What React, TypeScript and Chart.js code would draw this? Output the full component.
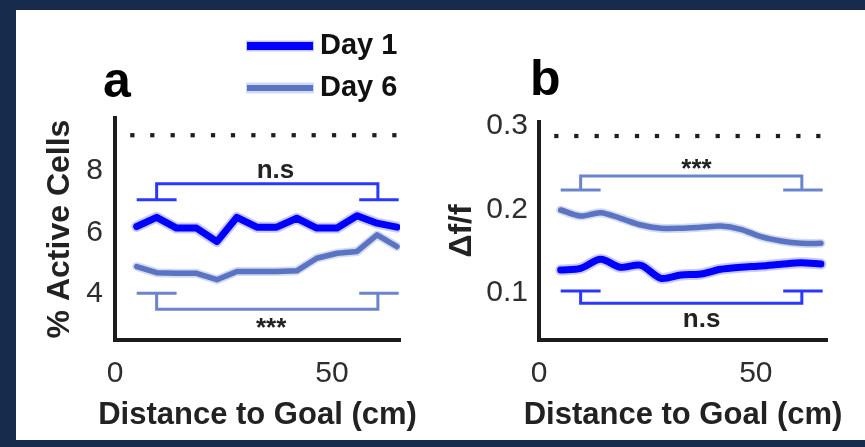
import React, { useEffect, useRef } from 'react';
import { Chart, registerables } from 'chart.js';

Chart.register(...registerables);

const FONT = "'Liberation Sans', Arial, Helvetica, sans-serif";

// ---------- data ----------
const distanceCm = [5, 9.6, 14.2, 18.8, 23.5, 28.1, 32.7, 37.3, 41.9, 46.5, 51.2, 55.8, 60.4, 65];
const sigDotX = [4, 8.6, 13.3, 17.9, 22.6, 27.2, 31.9, 36.5, 41.2, 45.8, 50.5, 55.1, 59.8, 64.4];
const seriesLabels = ['Day 1', 'Day 6'];
const xAxisTitle = 'Distance to Goal (cm)';

const activeDay1 = [6.19, 6.49, 6.14, 6.14, 5.7, 6.49, 6.17, 6.17, 6.46, 6.14, 6.14, 6.54, 6.3, 6.17];
const activeDay6 = [4.89, 4.69, 4.67, 4.67, 4.46, 4.73, 4.73, 4.73, 4.75, 5.16, 5.32, 5.38, 5.92, 5.54];

const dffDay1 = [0.1275, 0.1296, 0.1404, 0.1308, 0.1332, 0.1176, 0.1216, 0.1228, 0.1284, 0.1308, 0.1323, 0.1344, 0.1363, 0.1347];
const dffDay6 = [0.1994, 0.1922, 0.1962, 0.1895, 0.1814, 0.1775, 0.1775, 0.1787, 0.1802, 0.1763, 0.1674, 0.1623, 0.1595, 0.1595];

const xTickValues = [0, 50];
const activeTickValues = [4, 6, 8];
const dffTickValues = [0.1, 0.2, 0.3];

// bracket geometry in data units: feet ends and leg positions
const bracketFeetX = [5, 14.2, 56.3, 65.4];
const bracketLegsX = [9.6, 60.6];
const activeBracketDay1 = [7.06, 7.58]; // [feet, bar]
const activeBracketDay6 = [4.02, 3.5];
const dffBracketDay6 = [0.2233, 0.24];
const dffBracketDay1 = [0.1024, 0.0877];
const activeSigY = 9.16;
const dffSigY = 0.288;

// ---------- styles ----------
const DAY1 = '#0000ff';
const DAY6 = '#5a73c3';
const DAY1_HALO = 'rgba(60,60,255,0.28)';
const DAY6_HALO = 'rgba(110,135,210,0.30)';
const BR1 = '#2a38ff';
const BR6 = '#6c84cc';
const NAVY = '#172b4d';

function pts(xs: number[], ys: number[]) {
  return xs.map((x, i) => ({ x, y: ys[i] }));
}

function bracketPoints(feetY: number, barY: number) {
  const [f0, f1, f2, f3] = bracketFeetX;
  const [l0, l1] = bracketLegsX;
  return [
    { x: f0, y: feetY }, { x: f1, y: feetY }, { x: f1, y: null },
    { x: l0, y: feetY }, { x: l0, y: barY }, { x: l1, y: barY }, { x: l1, y: feetY }, { x: l1, y: null },
    { x: f2, y: feetY }, { x: f3, y: feetY },
  ];
}

type Note = { text: string; x: number; y: number; size: number };
type PanelOpts = {
  letter: string;
  letterDx: number;
  letterDy: number;
  notes: Note[];
  legend: boolean;
};

function overlayPlugin(o: PanelOpts) {
  return {
    id: 'overlay',
    afterDraw(chart: any) {
      const { ctx, chartArea, scales } = chart;
      ctx.save();
      ctx.fillStyle = '#000';
      ctx.textAlign = 'left';
      ctx.textBaseline = 'alphabetic';
      ctx.font = `bold 50px ${FONT}`;
      ctx.fillText(o.letter, chartArea.left + o.letterDx, chartArea.top + o.letterDy);

      // x-axis title (drawn without width squeeze)
      ctx.font = `bold 31px ${FONT}`;
      ctx.fillStyle = '#222';
      ctx.textAlign = 'center';
      ctx.textBaseline = 'middle';
      ctx.fillText(xAxisTitle, (chartArea.left + chartArea.right) / 2, chartArea.bottom + 75);

      for (const n of o.notes) {
        ctx.font = `bold ${n.size}px ${FONT}`;
        ctx.fillStyle = '#222';
        ctx.textAlign = 'center';
        ctx.textBaseline = 'alphabetic';
        ctx.fillText(n.text, scales.x.getPixelForValue(n.x), scales.y.getPixelForValue(n.y));
      }

      if (o.legend) {
        const colors = [DAY1, DAY6];
        const halos = [DAY1_HALO, DAY6_HALO];
        const rows = [chartArea.top - 72, chartArea.top - 30];
        const x0 = chartArea.left + 132;
        const x1 = chartArea.left + 198;
        seriesLabels.forEach((label, i) => {
          const y = rows[i];
          ctx.lineCap = 'butt';
          ctx.strokeStyle = halos[i];
          ctx.lineWidth = 11;
          ctx.beginPath();
          ctx.moveTo(x0 - 1, y);
          ctx.lineTo(x1 + 1, y);
          ctx.stroke();
          ctx.strokeStyle = colors[i];
          ctx.lineWidth = i === 0 ? 8 : 6;
          ctx.beginPath();
          ctx.moveTo(x0, y);
          ctx.lineTo(x1, y);
          ctx.stroke();
          ctx.font = `bold 29px ${FONT}`;
          ctx.fillStyle = '#111';
          ctx.textAlign = 'left';
          ctx.textBaseline = 'middle';
          ctx.fillText(label, chartArea.left + 205, y);
        });
      }
      ctx.restore();
    },
  };
}

type ChartSpec = {
  day1: number[];
  day6: number[];
  sigY: number;
  bracketTop: number[];
  bracketTopColor: string;
  bracketBottom: number[];
  bracketBottomColor: string;
  yMin: number;
  yMax: number;
  xMax: number;
  yTicks: number[];
  yTitle: string;
  yAxisWidth: number;
  yTitlePad: number;
  yTickPad: number;
  padding: { left: number; right: number; top: number; bottom: number };
  tension: number;
  overlay: PanelOpts;
};

function makeConfig(s: ChartSpec): any {
  const lineBase = { pointRadius: 0, fill: false, tension: s.tension, borderCapStyle: 'round', borderJoinStyle: 'round' };
  return {
    type: 'line',
    data: {
      datasets: [
        { ...lineBase, label: seriesLabels[1], data: pts(distanceCm, s.day6), borderColor: DAY6, borderWidth: 5.5 },
        { ...lineBase, label: seriesLabels[1] + ' band', data: pts(distanceCm, s.day6), borderColor: DAY6_HALO, borderWidth: 9 },
        { ...lineBase, label: seriesLabels[0], data: pts(distanceCm, s.day1), borderColor: DAY1, borderWidth: 7 },
        { ...lineBase, label: seriesLabels[0] + ' band', data: pts(distanceCm, s.day1), borderColor: DAY1_HALO, borderWidth: 11 },
        { label: 'bracket top', data: bracketPoints(s.bracketTop[0], s.bracketTop[1]), borderColor: s.bracketTopColor, borderWidth: 3, pointRadius: 0, tension: 0, spanGaps: false },
        { label: 'bracket bottom', data: bracketPoints(s.bracketBottom[0], s.bracketBottom[1]), borderColor: s.bracketBottomColor, borderWidth: 3, pointRadius: 0, tension: 0, spanGaps: false },
        { label: 'significance', data: sigDotX.map((x) => ({ x, y: s.sigY })), showLine: false, pointStyle: 'rect', pointRadius: 3, pointBackgroundColor: '#1e1e1e', pointBorderWidth: 0, borderColor: '#1e1e1e' },
      ],
    },
    options: {
      responsive: false,
      animation: false,
      events: [],
      layout: { padding: s.padding },
      plugins: { legend: { display: false }, tooltip: { enabled: false }, title: { display: false } },
      scales: {
        x: {
          type: 'linear',
          min: 0,
          max: s.xMax,
          afterBuildTicks: (sc: any) => { sc.ticks = xTickValues.map((v) => ({ value: v })); },
          afterFit: (sc: any) => { sc.height = 95; },
          grid: { display: false, drawTicks: false },
          border: { display: true, color: '#1c1c1c', width: 4 },
          ticks: { font: { family: FONT, size: 30 }, color: '#2e2e2e', padding: 16, callback: (v: any) => String(v), maxRotation: 0 },
          title: { display: false },
        },
        y: {
          type: 'linear',
          min: s.yMin,
          max: s.yMax,
          afterBuildTicks: (sc: any) => { sc.ticks = s.yTicks.map((v) => ({ value: v })); },
          afterFit: (sc: any) => { sc.width = s.yAxisWidth; },
          grid: { display: false, drawTicks: false },
          border: { display: true, color: '#1c1c1c', width: 4 },
          ticks: { font: { family: FONT, size: 30 }, color: '#2e2e2e', padding: s.yTickPad, callback: (v: any) => String(v) },
          title: { display: true, text: s.yTitle, font: { family: FONT, size: 32, weight: 'bold' }, color: '#222', padding: { top: s.yTitlePad, bottom: 0 } },
        },
      },
    },
    plugins: [overlayPlugin(s.overlay)],
  };
}

const specA: ChartSpec = {
  day1: activeDay1,
  day6: activeDay6,
  sigY: activeSigY,
  bracketTop: activeBracketDay1,
  bracketTopColor: BR1,
  bracketBottom: activeBracketDay6,
  bracketBottomColor: BR6,
  yMin: 2.5,
  yMax: 9.72,
  xMax: 65.7,
  yTicks: activeTickValues,
  yTitle: '% Active Cells',
  yAxisWidth: 80,
  yTitlePad: 6,
  yTickPad: 12,
  padding: { left: 35, right: 465, top: 118, bottom: 12 },
  tension: 0,
  overlay: {
    letter: 'a',
    letterDx: -12,
    letterDy: -21,
    legend: true,
    notes: [
      { text: 'n.s', x: 37, y: 7.77, size: 26 },
      { text: '***', x: 36, y: 2.62, size: 26 },
    ],
  },
};

const specB: ChartSpec = {
  day1: dffDay1,
  day6: dffDay6,
  sigY: dffSigY,
  bracketTop: dffBracketDay6,
  bracketTopColor: BR6,
  bracketBottom: dffBracketDay1,
  bracketBottomColor: BR1,
  yMin: 0.0437,
  yMax: 0.3048,
  xMax: 66.4,
  yTicks: dffTickValues,
  yTitle: '\u0394f/f',
  yAxisWidth: 104,
  yTitlePad: 8,
  yTickPad: 11,
  padding: { left: 435, right: 38, top: 122, bottom: 12 },
  tension: 0.3,
  overlay: {
    letter: 'b',
    letterDx: -9,
    letterDy: -27,
    legend: false,
    notes: [
      { text: '***', x: 36.3, y: 0.2384, size: 26 },
      { text: 'n.s', x: 37.5, y: 0.0593, size: 26 },
    ],
  },
};

function ChartCanvas({ spec }: { spec: ChartSpec }) {
  const ref = useRef<HTMLCanvasElement | null>(null);
  useEffect(() => {
    if (!ref.current) return;
    const chart = new Chart(ref.current, makeConfig(spec));
    return () => chart.destroy();
  }, [spec]);
  return (
    <canvas
      ref={ref}
      width={865}
      height={447}
      style={{ position: 'absolute', left: 0, top: 0, width: 865, height: 447 }}
    />
  );
}

export default function App() {
  return (
    <div style={{ position: 'relative', width: 865, height: 447, background: NAVY, overflow: 'hidden' }}>
      <style>{`body{margin:0;}`}</style>
      <div style={{ position: 'absolute', left: 16, top: 10, right: 0, bottom: 7, background: '#fff' }} />
      <ChartCanvas spec={specA} />
      <ChartCanvas spec={specB} />
    </div>
  );
}
